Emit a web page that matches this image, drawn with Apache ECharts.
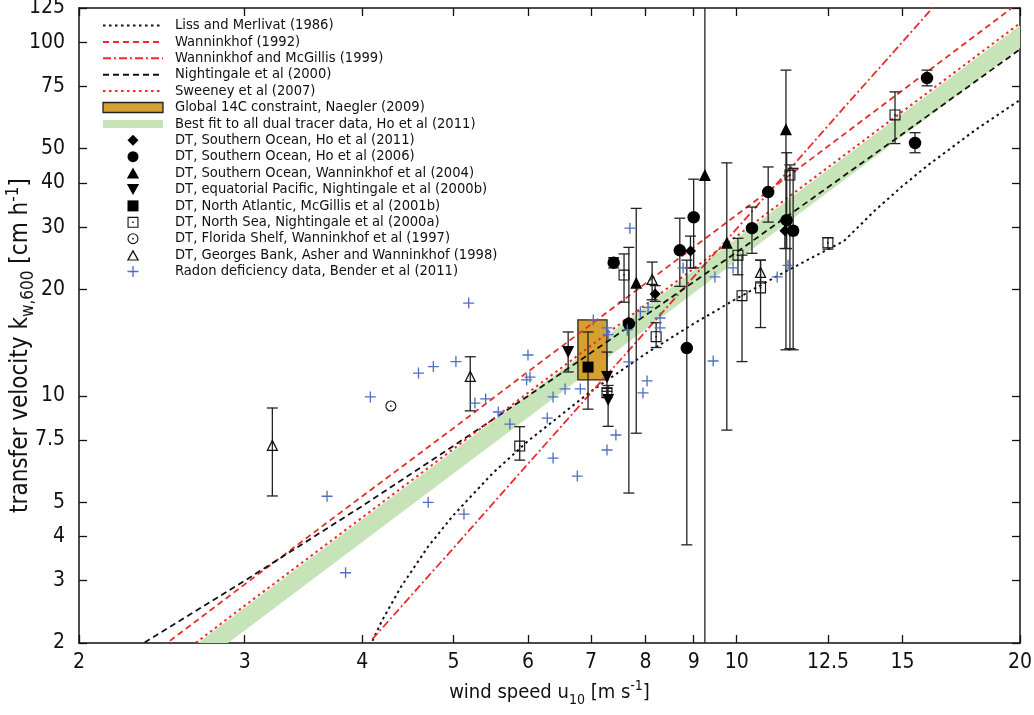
<!DOCTYPE html>
<html lang="en">
<head>
<meta charset="UTF-8">
<title>Transfer velocity vs wind speed</title>
<script src="https://cdn.jsdelivr.net/npm/echarts@6.0.0/dist/echarts.min.js"></script>
<style>
  html, body { margin: 0; padding: 0; background: #fff; }
  #main { width: 1034px; height: 715px; }
</style>
</head>
<body>
<div id="main"></div>
<script>
// tick values of both log axes
var xTicks = [2, 3, 4, 5, 6, 7, 8, 9, 10, 12.5, 15, 20]
var yTicks = [2, 3, 4, 5, 7.5, 10, 20, 30, 40, 50, 75, 100, 125]

// parameterisations: [u10, k]
var lissMerlivat = [[4.05, 1.89], [4.2, 2.32], [4.4, 2.89], [4.7, 3.75], [5, 4.6], [5.5, 6.03], [6, 7.45],
  [7, 10.3], [8, 13.15], [9, 16.0], [10, 18.85], [11, 21.7], [12, 24.55], [13, 27.4], [14, 33.3],
  [15, 39.2], [16, 45.1], [18, 56.9], [20, 68.7]]
var wanninkhof92 = [[2.45, 1.95], [3, 2.93], [4, 5.2], [5, 8.1], [6, 11.7], [8, 20.8], [10, 32.5],
  [12, 46.8], [15, 73.1], [19.6, 124.9]]
var wanninkhofMcGillis = [[4.1, 2.05], [4.5, 2.71], [5, 3.71], [6, 6.42], [7, 10.2], [8, 15.2], [9, 21.7],
  [10, 29.7], [11, 39.5], [12, 51.3], [13, 65.3], [14, 81.5], [15, 100.2], [16.4, 131]]
var nightingale = [[2.3, 1.94], [3, 3.0], [4, 4.88], [5, 7.22], [6, 9.99], [8, 16.9], [10, 25.5],
  [12, 36.0], [15, 55.0], [20, 95.5]]
var sweeney = [[2.6, 1.91], [3, 2.55], [4, 4.53], [5, 7.08], [6, 10.2], [8, 18.1], [10, 28.3],
  [12, 40.8], [15, 63.7], [20, 113.2]]

// dual tracer best fit band: u10, lower edge, upper edge
var bandU = [2.6, 5, 10, 20]
var bandLow = [1.63, 6.03, 24.1, 96.4]
var bandHigh = [1.89, 6.98, 27.9, 111.6]

// Naegler 14C box: u10 range, k range
var naeglerU = [6.78, 7.28]
var naeglerK = [11.1, 16.4]

// dual tracer points: [u10, k, low, high]
var hoSO2011 = [[8.19, 19.4, 18.5, 20.5], [8.93, 25.7, 23.0, 28.3], [11.25, 29.3, 26.1, 31.4]]
var hoSO2006 = [[7.40, 23.8, 23.0, 24.6], [7.68, 16.0, 5.31, 26.3], [8.70, 25.8, 20.4, 31.8],
  [8.85, 13.65, 3.79, 24.2], [9.0, 32.0, 23.0, 41.0], [10.38, 29.8, 25.3, 34.2],
  [10.8, 37.7, 31.0, 44.4], [11.3, 31.4, 26.1, 48.7], [11.48, 29.3, 13.5, 44.0],
  [15.47, 51.9, 48.7, 55.5], [15.93, 79.2, 75.3, 83.4]]
var wannSO2004 = [[7.82, 20.9, 7.84, 33.9], [9.25, 42.1, 1, 400], [9.76, 27.1, 8.0, 45.6],
  [11.28, 56.8, 13.5, 83.4]]
var eqPacific = [[6.62, 13.3, 11.68, 15.16], [7.28, 11.3, 10.3, 13.3], [7.30, 9.73, 8.2, 10.7]]
var northAtlantic = [[6.95, 12.06, 9.17, 15.16]]
var northSea = [[5.88, 7.21, 6.58, 8.18], [7.28, 10.2, 9.9, 10.5], [7.59, 21.96, 18.4, 25.2],
  [8.21, 14.7, 13.7, 16.1], [10.03, 25.0, 22.0, 27.9], [10.13, 19.2, 12.5, 25.0],
  [10.6, 20.2, 15.6, 24.2], [11.39, 42.1, 13.6, 45.0], [12.5, 27.1, 26.0, 28.0],
  [14.73, 62.3, 51.7, 72.4]]
var floridaShelf = [[4.29, 9.36]]
var georgesBank = [[3.21, 7.26, 5.21, 9.24], [5.21, 11.38, 9.07, 12.9], [8.13, 21.4, 18.7, 23.9],
  [10.6, 22.4, 21.0, 24.2]]
// radon deficiency points: [u10, k]
var radon = [[3.67, 5.2], [3.84, 3.16], [4.08, 9.93], [4.59, 11.6], [4.76, 12.1], [4.70, 5.0],
  [5.03, 12.5], [5.13, 4.63], [5.19, 18.3], [5.27, 9.54], [5.41, 9.8], [5.58, 9.0], [5.74, 8.32],
  [6.0, 13.05], [5.98, 11.1], [6.03, 11.3], [6.38, 9.93], [6.57, 10.46], [6.82, 10.46], [6.29, 8.65],
  [6.38, 6.67], [6.77, 5.93], [7.28, 7.03], [7.44, 7.75], [7.68, 12.47], [8.03, 11.02], [7.95, 10.19],
  [7.04, 16.4], [7.28, 15.56], [7.3, 14.9], [7.65, 15.36], [7.7, 29.8], [7.9, 17.3], [8.05, 17.8],
  [8.29, 16.6], [8.29, 15.56], [8.77, 23.0], [9.44, 12.55], [9.48, 21.7], [9.91, 23.0],
  [11.04, 21.7], [11.34, 23.4]]

var FONT = '"DejaVu Sans Condensed", "DejaVu Sans", sans-serif'
var RED = '#ee2a2a'
var lg = v => Math.log10(v)
var fmt = v => String(+Math.pow(10, v).toFixed(2))

var chart = echarts.init(document.getElementById('main'))

// symbols
var sym = {
  tri: 'path://M5,0L10,9H0Z',
  triDown: 'path://M0,0H10L5,9Z',
  diamond: 'path://M5,0L10,5L5,10L0,5Z',
  square: 'path://M0,0H10V10H0Z',
  openSquare: 'path://M0,0H10V10H0Z M1,1V9H9V1Z M4.3,4.3H5.7V5.7H4.3Z',
  openCircle: 'path://M5,0A5,5,0,1,1,5,10A5,5,0,1,1,5,0Z M5,1A4,4,0,1,0,5,9A4,4,0,1,0,5,1Z M5,4.2A0.8,0.8,0,1,1,5,5.8A0.8,0.8,0,1,1,5,4.2Z',
  openTri: 'path://M5,0L10,9H0Z M5,2.2L1.7,8H8.3Z',
  plus: 'path://M4.4,0H5.6V4.4H10V5.6H5.6V10H4.4V5.6H0V4.4H4.4Z'
}

var names = {
  lm: 'Liss and Merlivat (1986)',
  w92: 'Wanninkhof (1992)',
  wm: 'Wanninkhof and McGillis (1999)',
  n00: 'Nightingale et al (2000)',
  sw: 'Sweeney et al (2007)',
  nae: 'Global 14C constraint, Naegler (2009)',
  band: 'Best fit to all dual tracer data, Ho et al (2011)',
  ho11: 'DT, Southern Ocean, Ho et al (2011)',
  ho06: 'DT, Southern Ocean, Ho et al (2006)',
  wa04: 'DT, Southern Ocean, Wanninkhof et al (2004)',
  eq: 'DT, equatorial Pacific, Nightingale et al (2000b)',
  na: 'DT, North Atlantic, McGillis et al (2001b)',
  ns: 'DT, North Sea, Nightingale et al (2000a)',
  fl: 'DT, Florida Shelf, Wanninkhof et al (1997)',
  gb: 'DT, Georges Bank, Asher and Wanninkhof (1998)',
  rn: 'Radon deficiency data, Bender et al (2011)'
}

let toLog = arr => arr.map(p => [lg(p[0]), lg(p[1])])

let lineSeries = (name, arr, color, dash, width) => ({
  name: name, type: 'line', data: toLog(arr), symbol: 'none', z: 3,
  color: color, lineStyle: { color: color, width: width, type: dash }
})

let pointSeries = (name, arr, symbol, size, color) => ({
  name: name, type: 'scatter', data: toLog(arr), symbol: symbol, symbolSize: size, z: 5,
  itemStyle: { color: color, opacity: 1 }
})

// legend entry for a line: hide the dot ECharts puts in the middle
let lineLegend = name => ({ name: name, itemStyle: { opacity: 0 } })

// all error bars in one custom series
var errData = []
;[hoSO2011, hoSO2006, wannSO2004, eqPacific, northAtlantic, northSea, georgesBank].forEach(g => {
  g.forEach(p => errData.push([lg(p[0]), lg(p[1]), lg(p[2]), lg(p[3])]))
})

function renderErr(params, api) {
  var hi = api.coord([api.value(0), api.value(3)])
  var lo = api.coord([api.value(0), api.value(2)])
  var w = 5.5
  var st = { stroke: '#222', lineWidth: 1.3 }
  return {
    type: 'group', children: [
      { type: 'line', shape: { x1: hi[0], y1: hi[1], x2: lo[0], y2: lo[1] }, style: st },
      { type: 'line', shape: { x1: hi[0] - w, y1: hi[1], x2: hi[0] + w, y2: hi[1] }, style: st },
      { type: 'line', shape: { x1: lo[0] - w, y1: lo[1], x2: lo[0] + w, y2: lo[1] }, style: st }
    ]
  }
}

function renderBand(params, api) {
  var pts = []
  bandU.forEach((u, i) => pts.push(api.coord([lg(u), lg(bandHigh[i])])))
  for (var i = bandU.length - 1; i >= 0; i--) pts.push(api.coord([lg(bandU[i]), lg(bandLow[i])]))
  return { type: 'polygon', shape: { points: pts }, style: { fill: '#c7e4b8' } }
}

function renderBox(params, api) {
  var a = api.coord([api.value(0), api.value(3)])
  var b = api.coord([api.value(1), api.value(2)])
  return {
    type: 'rect', shape: { x: a[0], y: a[1], width: b[0] - a[0], height: b[1] - a[1] },
    style: { fill: '#d4a030', stroke: '#222', lineWidth: 1.3 }
  }
}

let axisCommon = {
  type: 'value',
  splitLine: { show: false },
  nameMoveOverlap: false,
  axisLine: { show: true, onZero: false, lineStyle: { color: '#111', width: 1.5 } }
}

let tickStyle = { color: '#111', width: 1.3 }

var option = {
  backgroundColor: '#fff',
  animation: false,
  grid: { left: 79, right: 14, top: 8, bottom: 72, outerBoundsMode: 'none' },
  legend: {
    orient: 'vertical', left: 97, top: 13,
    itemWidth: 60, itemHeight: 11, itemGap: 1.4,
    selectedMode: false,
    textStyle: { fontFamily: FONT, fontSize: 14.6, color: '#111', padding: [0, 0, 0, 7] },
    data: [
      lineLegend(names.lm), lineLegend(names.w92), lineLegend(names.wm), lineLegend(names.n00), lineLegend(names.sw),
      { name: names.nae, icon: 'path://M0,0H60V10H0Z', itemStyle: { color: '#d4a030', borderColor: '#222', borderWidth: 1.3 } },
      { name: names.band, icon: 'path://M0,0H60V8H0Z', itemStyle: { color: '#c7e4b8' } },
      names.ho11, names.ho06, names.wa04, names.eq, names.na, names.ns, names.fl, names.gb, names.rn
    ]
  },
  xAxis: [
    Object.assign({}, axisCommon, {
      position: 'bottom', min: lg(2), max: lg(20),
      axisTick: { show: true, inside: true, length: 8, customValues: xTicks.map(lg), lineStyle: tickStyle },
      axisLabel: { customValues: xTicks.map(lg), formatter: fmt, margin: 9, color: '#111', fontFamily: FONT, fontSize: 21 },
      name: 'wind speed u{sub|10} [m s{sup|-1}]', nameLocation: 'middle', nameGap: 36,
      nameTextStyle: {
        fontFamily: FONT, fontSize: 20, color: '#111', lineHeight: 28,
        rich: {
          sub: { fontFamily: FONT, fontSize: 14, verticalAlign: 'bottom', lineHeight: 20 },
          sup: { fontFamily: FONT, fontSize: 14, verticalAlign: 'top', lineHeight: 20 }
        }
      }
    }),
    Object.assign({}, axisCommon, {
      position: 'top', min: lg(2), max: lg(20),
      axisTick: { show: true, inside: true, length: 8, customValues: xTicks.map(lg), lineStyle: tickStyle },
      axisLabel: { show: false }
    })
  ],
  yAxis: [
    Object.assign({}, axisCommon, {
      position: 'left', min: lg(2), max: lg(125),
      axisTick: { show: true, inside: true, length: 8, customValues: yTicks.map(lg), lineStyle: tickStyle },
      axisLabel: { customValues: yTicks.map(lg), formatter: fmt, margin: 14, color: '#111', fontFamily: FONT, fontSize: 21 },
      name: 'transfer velocity k{sub|w,600} [cm h{sup|-1}]', nameLocation: 'middle', nameGap: 42, nameRotate: 90,
      nameTextStyle: {
        fontFamily: FONT, fontSize: 24, color: '#111', lineHeight: 32, padding: [0, 40, 0, 0],
        rich: {
          sub: { fontFamily: FONT, fontSize: 17, verticalAlign: 'bottom', lineHeight: 24 },
          sup: { fontFamily: FONT, fontSize: 17, verticalAlign: 'top', lineHeight: 24 }
        }
      }
    }),
    Object.assign({}, axisCommon, {
      position: 'right', min: lg(2), max: lg(125),
      axisTick: { show: true, inside: true, length: 8, customValues: yTicks.map(lg), lineStyle: tickStyle },
      axisLabel: { show: false }
    })
  ],
  series: [
    {
      name: names.band, type: 'custom', data: [[lg(bandU[0]), lg(bandLow[0])]], renderItem: renderBand,
      clip: true, z: 1, silent: true, itemStyle: { color: '#c7e4b8' }
    },
    {
      name: names.nae, type: 'custom', data: [[lg(naeglerU[0]), lg(naeglerU[1]), lg(naeglerK[0]), lg(naeglerK[1])]],
      encode: { x: [0, 1], y: [2, 3] }, renderItem: renderBox, clip: true, z: 2, silent: true,
      itemStyle: { color: '#d4a030' }
    },
    lineSeries(names.lm, lissMerlivat, '#111', [2.5, 3.5], 2),
    lineSeries(names.w92, wanninkhof92, RED, [6, 4], 1.8),
    lineSeries(names.wm, wanninkhofMcGillis, RED, [8, 3, 2, 3], 1.8),
    lineSeries(names.n00, nightingale, '#111', [6, 4], 1.8),
    lineSeries(names.sw, sweeney, RED, [2.5, 3.5], 2),
    {
      name: 'errbars', type: 'custom', data: errData, encode: { x: 0, y: [1, 2, 3] },
      renderItem: renderErr, clip: true, z: 4, silent: true
    },
    pointSeries(names.ho11, hoSO2011, sym.diamond, 11, '#000'),
    pointSeries(names.ho06, hoSO2006, 'circle', 12.5, '#000'),
    pointSeries(names.wa04, wannSO2004, sym.tri, 12, '#000'),
    pointSeries(names.eq, eqPacific, sym.triDown, 12, '#000'),
    pointSeries(names.na, northAtlantic, sym.square, 11, '#000'),
    pointSeries(names.ns, northSea, sym.openSquare, 11, '#111'),
    pointSeries(names.fl, floridaShelf, sym.openCircle, 11, '#111'),
    pointSeries(names.gb, georgesBank, sym.openTri, 12, '#111'),
    pointSeries(names.rn, radon, sym.plus, 11, '#4d6fc4')
  ]
}

chart.setOption(option)
</script>
</body>
</html>
